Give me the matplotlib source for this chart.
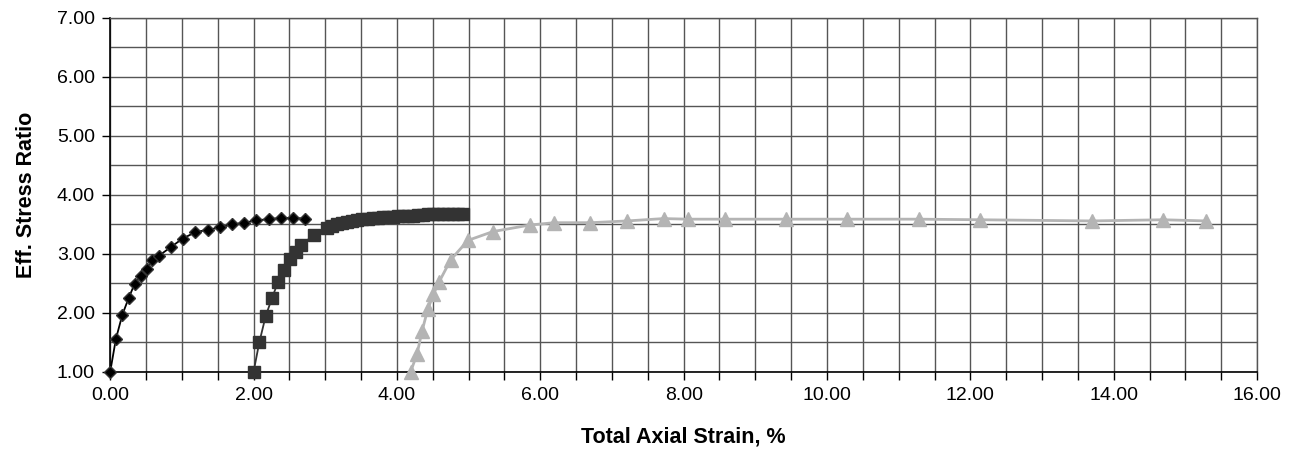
import matplotlib
matplotlib.use("Agg")
import matplotlib.pyplot as plt
import numpy as np
from matplotlib.ticker import MultipleLocator, FormatStrFormatter

# test 1 (black diamonds)
strain_1 = [0.00, 0.08, 0.17, 0.26, 0.34, 0.43, 0.51, 0.59, 0.68, 0.85,
            1.01, 1.19, 1.36, 1.53, 1.70, 1.87, 2.04, 2.21, 2.38, 2.55, 2.72]
ratio_1 = [1.00, 1.56, 1.97, 2.26, 2.49, 2.63, 2.75, 2.89, 2.97, 3.12,
           3.26, 3.37, 3.41, 3.45, 3.50, 3.53, 3.57, 3.59, 3.61, 3.61, 3.60]

# test 2 (dark squares)
strain_2 = [2.00, 2.08, 2.17, 2.26, 2.34, 2.43, 2.51, 2.59, 2.66, 2.85,
            3.03, 3.10, 3.17, 3.24, 3.31, 3.38, 3.45, 3.52, 3.59, 3.66,
            3.73, 3.80, 3.87, 3.94, 4.01, 4.08, 4.15, 4.22, 4.29, 4.36,
            4.43, 4.50, 4.57, 4.64, 4.71, 4.78, 4.85, 4.92]
ratio_2 = [1.00, 1.50, 1.95, 2.26, 2.52, 2.73, 2.91, 3.04, 3.15, 3.33,
           3.44, 3.48, 3.51, 3.53, 3.55, 3.56, 3.58, 3.59, 3.60, 3.61,
           3.61, 3.62, 3.62, 3.63, 3.64, 3.64, 3.65, 3.65, 3.66, 3.66,
           3.67, 3.67, 3.67, 3.68, 3.68, 3.68, 3.68, 3.68]

# test 3 (grey triangles)
strain_3 = [4.19, 4.28, 4.35, 4.43, 4.51, 4.59, 4.75, 4.99, 5.34, 5.85,
            6.19, 6.70, 7.21, 7.72, 8.06, 8.57, 9.43, 10.28, 11.28, 12.14,
            13.69, 14.69, 15.29]
ratio_3 = [1.00, 1.30, 1.69, 2.06, 2.32, 2.53, 2.90, 3.23, 3.38, 3.49,
           3.53, 3.53, 3.56, 3.60, 3.59, 3.59, 3.59, 3.59, 3.59, 3.58,
           3.56, 3.58, 3.56]

plt.rcParams['font.family'] = ['Liberation Sans', 'DejaVu Sans']

fig = plt.figure(figsize=(12.96, 4.49), dpi=100)
ax = fig.add_axes([0.085, 0.1715, 0.885, 0.7885])

grid_col = '#555555'

ax.plot(strain_1, ratio_1, color='black', lw=1.3, marker='D', markersize=6.5,
        markerfacecolor='black', markeredgecolor='#333333', zorder=4, clip_on=False)
ax.plot(strain_2, ratio_2, color='#333333', lw=1.3, marker='s', markersize=9,
        markerfacecolor='#333333', markeredgecolor='#333333', zorder=3, clip_on=False)
ax.plot(strain_3, ratio_3, color='#b4b4b4', lw=2, marker='^', markersize=9.5,
        markerfacecolor='#b4b4b4', markeredgecolor='#b4b4b4', zorder=3, clip_on=False)

ax.set_xlim(0, 16)
ax.set_ylim(1, 7)
ax.xaxis.set_major_locator(MultipleLocator(2))
ax.xaxis.set_minor_locator(MultipleLocator(0.5))
ax.yaxis.set_major_locator(MultipleLocator(1))
ax.yaxis.set_minor_locator(MultipleLocator(0.5))
ax.xaxis.set_major_formatter(FormatStrFormatter('%.2f'))
ax.yaxis.set_major_formatter(FormatStrFormatter('%.2f'))

ax.grid(True, which='both', color=grid_col, lw=1.0, zorder=0)
ax.set_axisbelow(True)

ax.tick_params(axis='both', which='major', direction='out', length=6, width=1,
               labelsize=14, pad=5, colors='black')
ax.tick_params(axis='x', which='minor', direction='out', length=6, width=1)
ax.tick_params(axis='y', which='minor', length=0)

for s in ['left', 'bottom']:
    ax.spines[s].set_color('black')
    ax.spines[s].set_linewidth(1.2)
for s in ['top', 'right']:
    ax.spines[s].set_color(grid_col)
    ax.spines[s].set_linewidth(1.0)

ax.set_xlabel('Total Axial Strain, %', fontsize=15.5, fontweight='bold', labelpad=16)
ax.set_ylabel('Eff. Stress Ratio', fontsize=15.5, fontweight='bold', labelpad=14)

fig.savefig('out.png', dpi=100)
